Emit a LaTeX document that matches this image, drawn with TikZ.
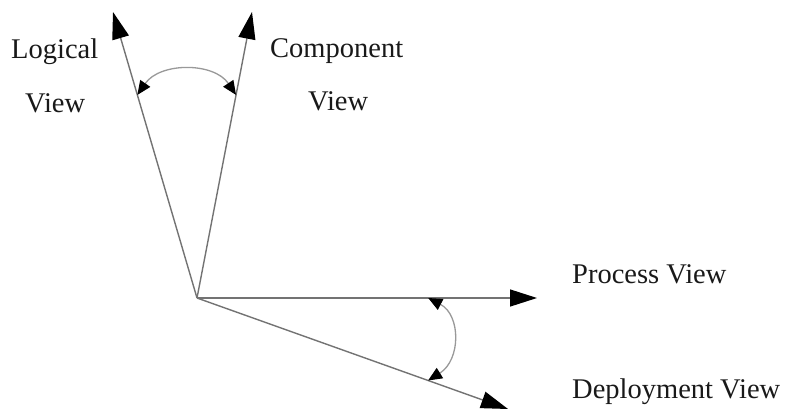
\documentclass[tikz,border=0pt]{standalone}
\usepackage{fontspec}
\setmainfont{Liberation Serif}
\usetikzlibrary{arrows.meta,calc}
\begin{document}
\begin{tikzpicture}[x=1pt,y=-1pt,
  axis/.style={draw=black!55,line width=1.4pt,-{Triangle[length=27pt,width=17pt,black]}},
  sweep/.style={draw=black!40,line width=1.3pt,{Triangle[length=14pt,width=12pt,black]}-{Triangle[length=14pt,width=12pt,black]}},
  lbl/.style={inner sep=0pt,anchor=base west,text=black!90,font=\fontsize{28.5}{30}\selectfont}]
\useasboundingbox (0,0) rectangle (785,409);

% origin and axis tips
\coordinate (o) at (197,298);
\coordinate (lg) at (113,12);
\coordinate (cp) at (252,12);
\coordinate (pr) at (537,298);
\coordinate (dp) at (508,409);

\draw[axis] (o) -- (lg);
\draw[axis] (o) -- (cp);
\draw[axis] (o) -- (pr);
\draw[axis] (o) -- (dp);

% ends of the angle arcs on the axes
\coordinate (a1) at ($(o)!0.71!(lg)$);
\coordinate (a2) at ($(o)!0.71!(cp)$);
\coordinate (b1) at ($(o)!0.68!(pr)$);
\coordinate (b2) at ($(o)!0.743!(dp)$);

\draw[sweep] (a1) .. controls (160,62) and (214,62) .. (a2);
\draw[sweep] (b1) .. controls (461,315) and (461,360) .. (b2);

% labels
\node[lbl] (tlog) at (11,59) {Logical};
\node[lbl] (tlogv) at (25,113) {View};
\node[lbl] (tcmp) at (270,58) {Component};
\node[lbl] (tcmpv) at (308,111) {View};
\node[lbl] (tpro) at (572,283) {Process View};
\node[lbl] (tdep) at (572,398) {Deployment View};
\end{tikzpicture}
\end{document}
